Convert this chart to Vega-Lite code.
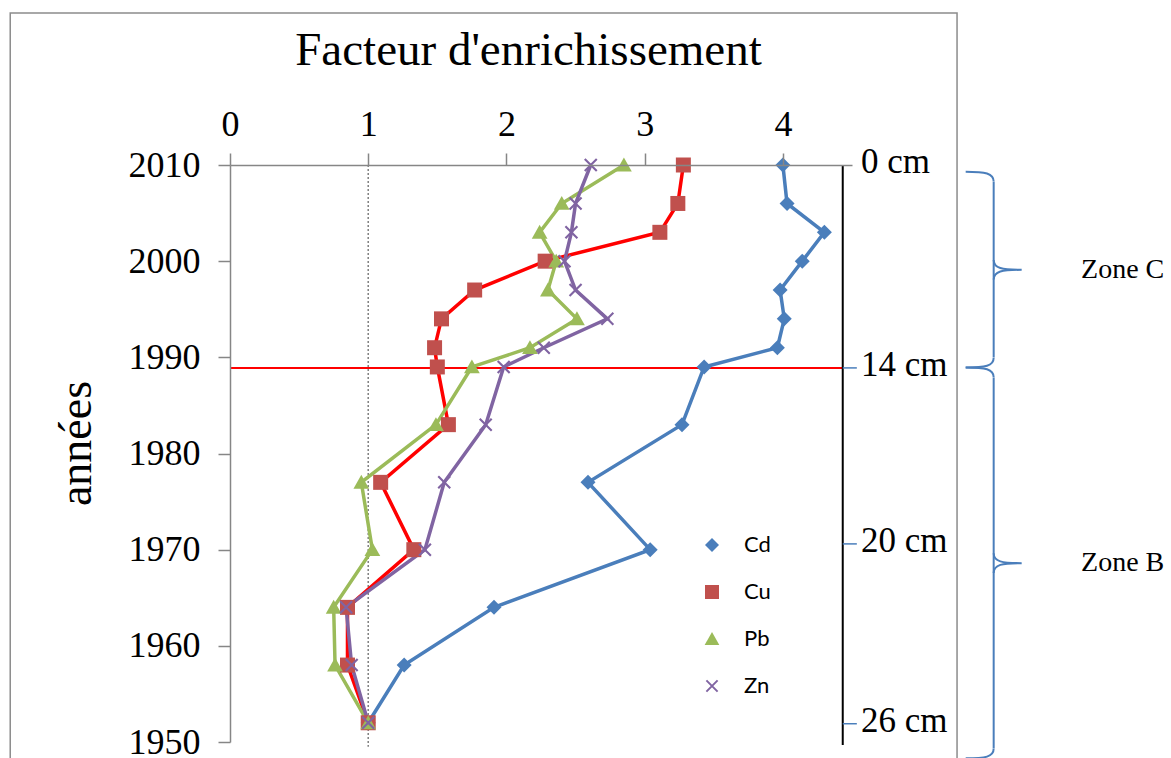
{
  "$schema": "https://vega.github.io/schema/vega-lite/v6.json",
  "width": 622,
  "height": 577,
  "autosize": {"type": "none"},
  "padding": {"left": 230, "top": 165, "right": 319, "bottom": 16},
  "background": "white",
  "config": {
    "view": {"stroke": null},
    "font": "Liberation Serif",
    "legend": {
      "title": null, "orient": "none", "legendX": 471, "legendY": 369, "padding": 0, "zindex": 1,
      "labelFont": "Lato", "labelFontSize": 22, "labelColor": "black", "labelOffset": 21,
      "symbolSize": 196, "symbolStrokeWidth": 0, "rowPadding": 25
    }
  },
  "datasets": {
    "metals": [
      {"metal": "Cd", "year": 2010, "fe": 4.00}, {"metal": "Cd", "year": 2006, "fe": 4.03}, {"metal": "Cd", "year": 2003, "fe": 4.30}, {"metal": "Cd", "year": 2000, "fe": 4.14}, {"metal": "Cd", "year": 1997, "fe": 3.98}, {"metal": "Cd", "year": 1994, "fe": 4.01}, {"metal": "Cd", "year": 1991, "fe": 3.96}, {"metal": "Cd", "year": 1989, "fe": 3.43}, {"metal": "Cd", "year": 1983, "fe": 3.27}, {"metal": "Cd", "year": 1977, "fe": 2.59}, {"metal": "Cd", "year": 1970, "fe": 3.04}, {"metal": "Cd", "year": 1964, "fe": 1.91}, {"metal": "Cd", "year": 1958, "fe": 1.26}, {"metal": "Cd", "year": 1952, "fe": 1.00},
      {"metal": "Cu", "year": 2010, "fe": 3.28}, {"metal": "Cu", "year": 2006, "fe": 3.24}, {"metal": "Cu", "year": 2003, "fe": 3.11}, {"metal": "Cu", "year": 2000, "fe": 2.28}, {"metal": "Cu", "year": 1997, "fe": 1.77}, {"metal": "Cu", "year": 1994, "fe": 1.53}, {"metal": "Cu", "year": 1991, "fe": 1.48}, {"metal": "Cu", "year": 1989, "fe": 1.50}, {"metal": "Cu", "year": 1983, "fe": 1.58}, {"metal": "Cu", "year": 1977, "fe": 1.09}, {"metal": "Cu", "year": 1970, "fe": 1.33}, {"metal": "Cu", "year": 1964, "fe": 0.85}, {"metal": "Cu", "year": 1958, "fe": 0.85}, {"metal": "Cu", "year": 1952, "fe": 1.00},
      {"metal": "Pb", "year": 2010, "fe": 2.85}, {"metal": "Pb", "year": 2006, "fe": 2.40}, {"metal": "Pb", "year": 2003, "fe": 2.24}, {"metal": "Pb", "year": 2000, "fe": 2.36}, {"metal": "Pb", "year": 1997, "fe": 2.30}, {"metal": "Pb", "year": 1994, "fe": 2.51}, {"metal": "Pb", "year": 1991, "fe": 2.17}, {"metal": "Pb", "year": 1989, "fe": 1.75}, {"metal": "Pb", "year": 1983, "fe": 1.49}, {"metal": "Pb", "year": 1977, "fe": 0.95}, {"metal": "Pb", "year": 1970, "fe": 1.03}, {"metal": "Pb", "year": 1964, "fe": 0.75}, {"metal": "Pb", "year": 1958, "fe": 0.76}, {"metal": "Pb", "year": 1952, "fe": 1.00},
      {"metal": "Zn", "year": 2010, "fe": 2.61}, {"metal": "Zn", "year": 2006, "fe": 2.50}, {"metal": "Zn", "year": 2003, "fe": 2.47}, {"metal": "Zn", "year": 2000, "fe": 2.42}, {"metal": "Zn", "year": 1997, "fe": 2.50}, {"metal": "Zn", "year": 1994, "fe": 2.73}, {"metal": "Zn", "year": 1991, "fe": 2.27}, {"metal": "Zn", "year": 1989, "fe": 1.98}, {"metal": "Zn", "year": 1983, "fe": 1.85}, {"metal": "Zn", "year": 1977, "fe": 1.55}, {"metal": "Zn", "year": 1970, "fe": 1.41}, {"metal": "Zn", "year": 1964, "fe": 0.84}, {"metal": "Zn", "year": 1958, "fe": 0.88}, {"metal": "Zn", "year": 1952, "fe": 1.00}
    ],
    "depths": [
      {"depth": "0 cm", "year": 2010},
      {"depth": "14 cm", "year": 1988.9},
      {"depth": "20 cm", "year": 1970.6},
      {"depth": "26 cm", "year": 1951.9}
    ],
    "zones": [
      {"zone": "Zone C", "top": 2009.3, "bottom": 1988.95, "mid": 1999.1},
      {"zone": "Zone B", "top": 1988.95, "bottom": 1948.3, "mid": 1968.6}
    ]
  },
  "layer": [
    {
      "data": {"values": [{}]},
      "mark": {"type": "rect", "filled": false, "fill": "transparent", "stroke": "#8c8c8c", "strokeWidth": 1.5},
      "encoding": {
        "x": {"datum": -1.59, "type": "quantitative"},
        "x2": {"datum": 5.26},
        "y": {"datum": 2025.8, "type": "quantitative"},
        "y2": {"datum": 1945}
      }
    },
    {
      "data": {"values": [{}]},
      "mark": {"type": "rule", "stroke": "#808080", "strokeWidth": 1.5, "strokeDash": [2, 2]},
      "encoding": {
        "x": {"datum": 1, "type": "quantitative"},
        "y": {"datum": 2010, "type": "quantitative"},
        "y2": {"datum": 1949.5}
      }
    },
    {
      "data": {"name": "depths"},
      "transform": [{"filter": "datum.depth === '14 cm'"}],
      "mark": {"type": "rule", "stroke": "#ff0000", "strokeWidth": 2},
      "encoding": {
        "y": {"field": "year", "type": "quantitative"},
        "x": {"datum": 0, "type": "quantitative"},
        "x2": {"datum": 4.433}
      }
    },
    {
      "data": {"values": [{}]},
      "mark": {"type": "rule", "stroke": "#000000", "strokeWidth": 2},
      "encoding": {
        "x": {"datum": 4.433, "type": "quantitative"},
        "y": {"datum": 2010, "type": "quantitative"},
        "y2": {"datum": 1949.7}
      }
    },
    {
      "data": {"name": "depths"},
      "transform": [{"filter": "datum.depth !== '0 cm'"}],
      "mark": {"type": "rule", "stroke": "#4a7ebb", "strokeWidth": 1.5},
      "encoding": {
        "y": {"field": "year", "type": "quantitative"},
        "x": {"datum": 4.433, "type": "quantitative"},
        "x2": {"datum": 4.535}
      }
    },
    {
      "data": {"name": "depths"},
      "mark": {"type": "text", "align": "left", "baseline": "middle", "font": "Liberation Serif", "fontSize": 35, "color": "black", "dy": -3},
      "encoding": {
        "y": {"field": "year", "type": "quantitative"},
        "x": {"datum": 4.565, "type": "quantitative"},
        "text": {"field": "depth"}
      }
    },
    {
      "data": {"name": "zones"},
      "mark": {"type": "rule", "stroke": "#4a7ebb", "strokeWidth": 2, "yOffset": 10, "y2Offset": -10},
      "encoding": {
        "x": {"datum": 5.525, "type": "quantitative"},
        "y": {"field": "top", "type": "quantitative"},
        "y2": {"field": "bottom"}
      }
    },
    {
      "data": {"name": "zones"},
      "mark": {"type": "point", "shape": "M-2,0C-0.6,0,0,0.1,0,0.7", "filled": false, "stroke": "#4a7ebb", "strokeWidth": 2, "size": 784, "opacity": 1},
      "encoding": {
        "x": {"datum": 5.525, "type": "quantitative"},
        "y": {"field": "top", "type": "quantitative"}
      }
    },
    {
      "data": {"name": "zones"},
      "mark": {"type": "point", "shape": "M0,-0.7C0,-0.1,0.6,0,2,0C0.6,0,0,0.1,0,0.7", "filled": false, "stroke": "#4a7ebb", "strokeWidth": 2, "size": 784, "opacity": 1},
      "encoding": {
        "x": {"datum": 5.525, "type": "quantitative"},
        "y": {"field": "mid", "type": "quantitative"}
      }
    },
    {
      "data": {"name": "zones"},
      "mark": {"type": "point", "shape": "M0,-0.7C0,-0.1,-0.6,0,-2,0", "filled": false, "stroke": "#4a7ebb", "strokeWidth": 2, "size": 784, "opacity": 1},
      "encoding": {
        "x": {"datum": 5.525, "type": "quantitative"},
        "y": {"field": "bottom", "type": "quantitative"}
      }
    },
    {
      "data": {"name": "zones"},
      "mark": {"type": "text", "align": "left", "baseline": "middle", "font": "Liberation Serif", "fontSize": 28, "color": "black"},
      "encoding": {
        "x": {"datum": 6.157, "type": "quantitative"},
        "y": {"field": "mid", "type": "quantitative"},
        "text": {"field": "zone"}
      }
    },
    {
      "data": {"name": "metals"},
      "mark": {"type": "line", "strokeWidth": 3.5},
      "encoding": {
        "x": {
          "field": "fe", "type": "quantitative",
          "scale": {"domain": [0, 4.5], "nice": false, "zero": false},
          "axis": {
            "orient": "top", "values": [0, 1, 2, 3, 4], "format": "d", "zindex": 1,
            "title": "Facteur d'enrichissement", "titleFont": "Liberation Serif", "titleFontSize": 47, "titleFontWeight": "normal", "titleColor": "black",
            "titleX": 298, "titleY": -101, "titleBaseline": "alphabetic", "titleAlign": "center", "titleAngle": 0,
            "labelFont": "Liberation Serif", "labelFontSize": 36, "labelColor": "black", "labelPadding": 10, "labelFlush": false, "labelOverlap": false,
            "tickSize": 12, "tickColor": "#868686", "tickWidth": 1.5, "domainColor": "#868686", "domainWidth": 1.5, "grid": false
          }
        },
        "y": {
          "field": "year", "type": "quantitative",
          "scale": {"domain": [1950, 2010], "nice": false, "zero": false},
          "axis": {
            "orient": "left", "values": [1950, 1960, 1970, 1980, 1990, 2000, 2010], "format": "d", "zindex": 1,
            "title": "années", "titleFont": "Liberation Serif", "titleFontSize": 46, "titleFontWeight": "normal", "titleColor": "black",
            "titleX": -140, "titleY": 278, "titleAngle": -90, "titleBaseline": "alphabetic", "titleAlign": "center",
            "labelFont": "Liberation Serif", "labelFontSize": 36, "labelColor": "black", "labelPadding": 18, "labelFlush": false, "labelOverlap": false,
            "tickSize": 12, "tickColor": "#868686", "tickWidth": 1.5, "domainColor": "#868686", "domainWidth": 1.5, "grid": false
          }
        },
        "stroke": {
          "field": "metal", "type": "nominal",
          "scale": {"domain": ["Cd", "Cu", "Pb", "Zn"], "range": ["#4a7ebb", "#ff0000", "#9bbb59", "#8064a2"]}
        },
        "order": {"field": "year", "type": "quantitative"}
      }
    },
    {
      "data": {"name": "metals"},
      "mark": {"type": "point", "filled": true, "size": 225, "opacity": 1, "strokeWidth": 0},
      "encoding": {
        "x": {"field": "fe", "type": "quantitative"},
        "y": {"field": "year", "type": "quantitative"},
        "color": {
          "field": "metal", "type": "nominal",
          "scale": {"domain": ["Cd", "Cu", "Pb", "Zn"], "range": ["#4a7ebb", "#c0504d", "#9bbb59", "#8064a2"]}
        },
        "shape": {
          "field": "metal", "type": "nominal",
          "scale": {"domain": ["Cd", "Cu", "Pb", "Zn"], "range": ["M0,-1L1,0L0,1L-1,0Z", "M-1,-1H1V1H-1Z", "M0,-1L1.05,0.85H-1.05Z", "M-0.7,-0.9L0.9,0.7L0.7,0.9L-0.9,-0.7Z M-0.7,0.9L-0.9,0.7L0.7,-0.9L0.9,-0.7Z"]}
        }
      }
    }
  ]
}
